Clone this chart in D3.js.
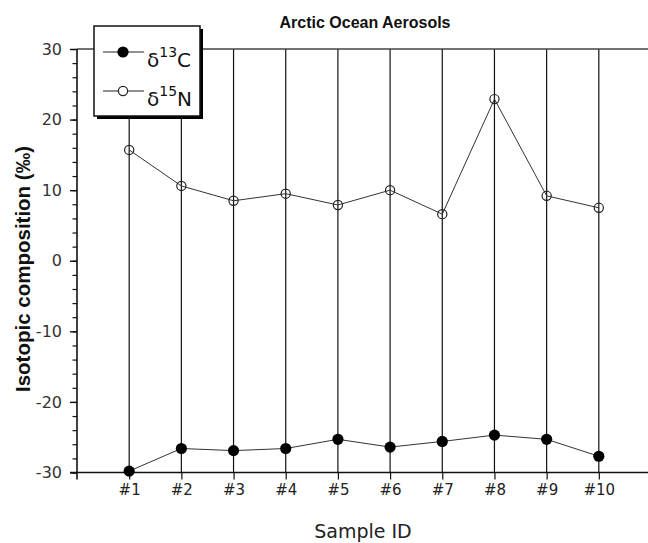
<!DOCTYPE html>
<html>
<head>
<meta charset="utf-8">
<script src="https://cdn.jsdelivr.net/npm/d3@7"></script>
<style>
  html, body { margin: 0; padding: 0; background: #fff; }
  svg { display: block; }
</style>
</head>
<body>
<svg id="chart" width="648" height="543"></svg>
<script>
const samples = ["#1", "#2", "#3", "#4", "#5", "#6", "#7", "#8", "#9", "#10"];
const d13C = [-29.8, -26.6, -26.9, -26.6, -25.3, -26.4, -25.6, -24.7, -25.3, -27.7];
const d15N = [15.7, 10.6, 8.5, 9.5, 7.9, 10.0, 6.6, 22.9, 9.2, 7.5];
const yMajorTicks = [-30, -20, -10, 0, 10, 20, 30];
const yMinorTicks = d3.range(-30, 31, 2);
const title = "Arctic Ocean Aerosols";
const xTitle = "Sample ID";
const yTitle = "Isotopic composition (‰)";

const W = 648, H = 543;
const svg = d3.select("#chart");
const idx = samples.map((s, i) => i + 1);

const x = d3.scaleLinear().domain([0, 11]).range([77, 651]);
const y = d3.scaleLinear().domain([-30, 30]).range([472.5, 49]);

const font = "'DejaVu Sans', sans-serif";
const ink = "#111";

// vertical grid lines
svg.append("g").selectAll("line").data(idx).join("line")
  .attr("x1", d => x(d)).attr("x2", d => x(d))
  .attr("y1", y(30)).attr("y2", y(-30))
  .attr("stroke", ink).attr("stroke-width", 1.2);

// top frame line
svg.append("line")
  .attr("x1", x(0)).attr("x2", W)
  .attr("y1", y(30)).attr("y2", y(30))
  .attr("stroke", "#444").attr("stroke-width", 1.6);

// x axis
const xAxis = d3.axisBottom(x)
  .tickValues(idx)
  .tickFormat(d => samples[d - 1])
  .tickSizeInner(7).tickSizeOuter(0).tickPadding(5);
const gx = svg.append("g").attr("transform", `translate(0,${y(-30)})`).call(xAxis);
gx.select(".domain").remove();
gx.selectAll(".tick line").attr("stroke", ink).attr("stroke-width", 1.2);
gx.selectAll(".tick text").attr("font-family", font).attr("font-size", 15).attr("fill", "#222");
svg.append("line")
  .attr("x1", x(0) - 7).attr("x2", W)
  .attr("y1", y(-30)).attr("y2", y(-30))
  .attr("stroke", ink).attr("stroke-width", 1.6);

// y axis minor ticks
const yMinor = d3.axisLeft(y).tickValues(yMinorTicks).tickSizeInner(4.5).tickSizeOuter(0).tickFormat("");
const gym = svg.append("g").attr("transform", `translate(${x(0)},0)`).call(yMinor);
gym.select(".domain").remove();
gym.selectAll(".tick line").attr("stroke", ink).attr("stroke-width", 1.2);

// y axis major
const yAxis = d3.axisLeft(y).tickValues(yMajorTicks).tickSizeInner(7).tickSizeOuter(0).tickPadding(8).tickFormat(d => String(d));
const gy = svg.append("g").attr("transform", `translate(${x(0)},0)`).call(yAxis);
gy.select(".domain").remove();
gy.selectAll(".tick line").attr("stroke", ink).attr("stroke-width", 1.4);
gy.selectAll(".tick text").attr("font-family", font).attr("font-size", 16).attr("fill", "#333");
svg.append("line")
  .attr("x1", x(0)).attr("x2", x(0))
  .attr("y1", y(30)).attr("y2", y(-30) + 7)
  .attr("stroke", ink).attr("stroke-width", 1.6);

// data lines
const line = d3.line().x((d, i) => x(i + 1)).y(d => y(d));
svg.append("path").datum(d15N).attr("d", line)
  .attr("fill", "none").attr("stroke", "#333").attr("stroke-width", 1);
svg.append("path").datum(d13C).attr("d", line)
  .attr("fill", "none").attr("stroke", "#333").attr("stroke-width", 1);

// markers
svg.append("g").selectAll("circle").data(d15N).join("circle")
  .attr("cx", (d, i) => x(i + 1)).attr("cy", d => y(d)).attr("r", 4.6)
  .attr("fill", "none").attr("stroke", "#222").attr("stroke-width", 1.2);
svg.append("g").selectAll("circle").data(d13C).join("circle")
  .attr("cx", (d, i) => x(i + 1)).attr("cy", d => y(d)).attr("r", 5.6)
  .attr("fill", "#000");

// title
svg.append("text").attr("x", 365).attr("y", 28).attr("text-anchor", "middle")
  .attr("font-family", "'Liberation Sans', Arial, sans-serif").attr("font-weight", "bold")
  .attr("font-size", 16).attr("fill", "#111").text(title);

// axis titles
svg.append("text").attr("x", 363).attr("y", 538).attr("text-anchor", "middle")
  .attr("font-family", font).attr("font-size", 19).attr("fill", "#222").text(xTitle);
svg.append("text").attr("transform", "translate(30,269) rotate(-90)").attr("text-anchor", "middle")
  .attr("font-family", "'Liberation Sans', Arial, sans-serif").attr("font-weight", "bold")
  .attr("font-size", 20.5).attr("fill", "#111").text(yTitle);

// legend
const lg = svg.append("g");
lg.append("rect").attr("x", 97).attr("y", 29).attr("width", 106).attr("height", 90).attr("fill", "#000");
lg.append("rect").attr("x", 94).attr("y", 26).attr("width", 106).attr("height", 90)
  .attr("fill", "#fff").attr("stroke", ink).attr("stroke-width", 1.5);
const legendItems = [
  { sup: "13", el: "C", filled: true, ly: 52 },
  { sup: "15", el: "N", filled: false, ly: 91 }
];
legendItems.forEach(it => {
  lg.append("line").attr("x1", 103).attr("x2", 144).attr("y1", it.ly).attr("y2", it.ly)
    .attr("stroke", "#222").attr("stroke-width", 1);
  const c = lg.append("circle").attr("cx", 123).attr("cy", it.ly);
  if (it.filled) c.attr("r", 5.6).attr("fill", "#000");
  else c.attr("r", 4.6).attr("fill", "#fff").attr("stroke", "#222").attr("stroke-width", 1.2);
  const t = lg.append("text").attr("x", 147).attr("y", it.ly + 15)
    .attr("font-family", font).attr("font-size", 20).attr("fill", "#111");
  t.append("tspan").text("δ");
  t.append("tspan").attr("dy", -10).attr("font-size", 14).text(it.sup);
  t.append("tspan").attr("dy", 10).text(it.el);
});
</script>
</body>
</html>
